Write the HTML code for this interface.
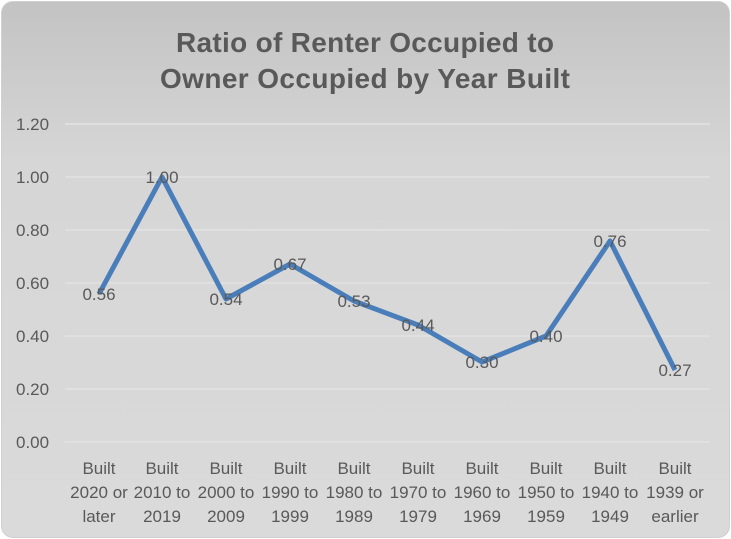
<!DOCTYPE html>
<html><head><style>
html,body{margin:0;padding:0;background:#fff;}
.c{position:absolute;left:1px;top:1px;width:727px;height:535px;border:1px solid #d0d0d0;border-radius:12px;background:linear-gradient(#c3c3c3 0%,#d6d6d6 30%,#dadada 100%);overflow:hidden;}
svg{position:absolute;left:0;top:0;}
text{font-family:"Liberation Sans",sans-serif;fill:#595959;}
</style></head><body>
<div class="c"></div>
<svg width="731" height="539">
<text x="365" y="52" text-anchor="middle" font-size="28" font-weight="bold" textLength="378">Ratio of Renter Occupied to</text>
<text x="365" y="88" text-anchor="middle" font-size="28" font-weight="bold" textLength="410">Owner Occupied by Year Built</text>
<g stroke="#e2e2e2" stroke-width="1.5">
<line x1="65" x2="710" y1="124" y2="124"/><line x1="65" x2="710" y1="177" y2="177"/>
<line x1="65" x2="710" y1="230" y2="230"/><line x1="65" x2="710" y1="283" y2="283"/>
<line x1="65" x2="710" y1="336" y2="336"/><line x1="65" x2="710" y1="389" y2="389"/>
<line x1="65" x2="710" y1="442" y2="442"/>
</g>
<g font-size="17">
<text x="16" y="130">1.20</text><text x="16" y="183">1.00</text><text x="16" y="236">0.80</text>
<text x="16" y="289">0.60</text><text x="16" y="342">0.40</text><text x="16" y="395">0.20</text><text x="16" y="448">0.00</text>
</g>
<polyline fill="none" stroke="#4a7ebb" stroke-width="5" stroke-linejoin="round" points="99,294 162,177 226,299 290,264 354,301 418,325 482,362 546,336 610,241 675,370"/>
<g font-size="17" text-anchor="middle">
<text x="99" y="300">0.56</text><text x="162" y="183">1.00</text><text x="226" y="305">0.54</text>
<text x="290" y="270">0.67</text><text x="354" y="307">0.53</text><text x="418" y="331">0.44</text>
<text x="482" y="368">0.30</text><text x="546" y="342">0.40</text><text x="610" y="247">0.76</text><text x="675" y="376">0.27</text>
</g>
<g font-size="17" text-anchor="middle">
<text x="99" y="474">Built</text><text x="99" y="498">2020 or</text><text x="99" y="522">later</text>
<text x="162" y="474">Built</text><text x="162" y="498">2010 to</text><text x="162" y="522">2019</text>
<text x="226" y="474">Built</text><text x="226" y="498">2000 to</text><text x="226" y="522">2009</text>
<text x="290" y="474">Built</text><text x="290" y="498">1990 to</text><text x="290" y="522">1999</text>
<text x="354" y="474">Built</text><text x="354" y="498">1980 to</text><text x="354" y="522">1989</text>
<text x="418" y="474">Built</text><text x="418" y="498">1970 to</text><text x="418" y="522">1979</text>
<text x="482" y="474">Built</text><text x="482" y="498">1960 to</text><text x="482" y="522">1969</text>
<text x="546" y="474">Built</text><text x="546" y="498">1950 to</text><text x="546" y="522">1959</text>
<text x="610" y="474">Built</text><text x="610" y="498">1940 to</text><text x="610" y="522">1949</text>
<text x="675" y="474">Built</text><text x="675" y="498">1939 or</text><text x="675" y="522">earlier</text>
</g>
</svg>
</body></html>
